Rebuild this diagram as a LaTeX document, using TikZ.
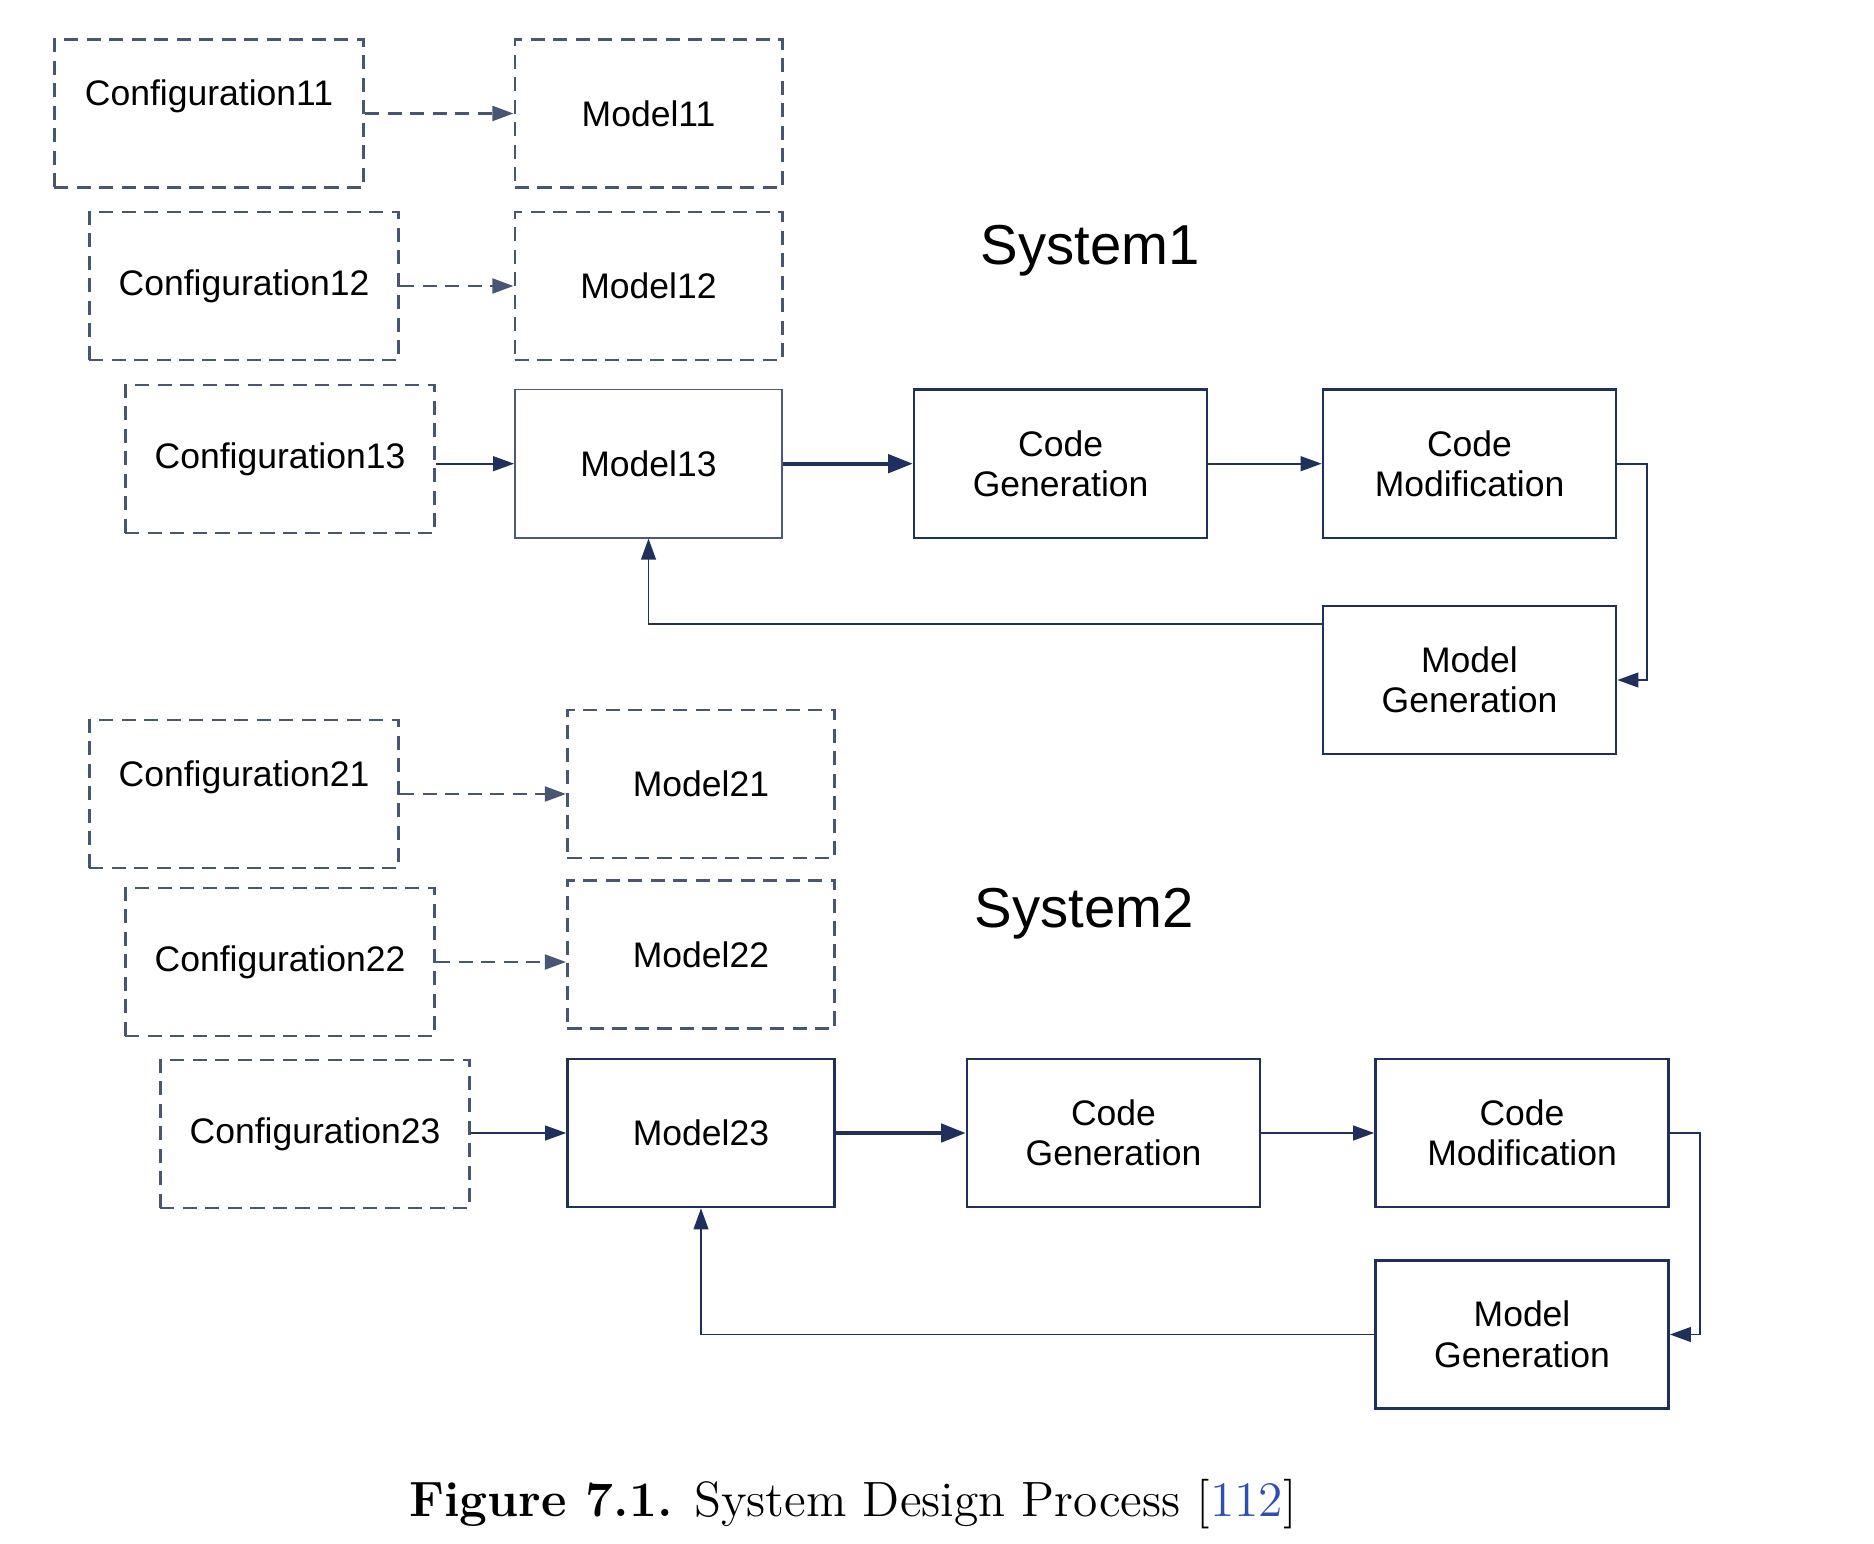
\documentclass[tikz,border=0pt]{standalone}
\usepackage{fontspec}
\usetikzlibrary{arrows.meta}
\newfontfamily\diafont{Liberation Sans}
\definecolor{navy}{RGB}{31,48,92}
\definecolor{dashnavy}{RGB}{72,86,116}
\definecolor{citeblue}{RGB}{48,78,178}

\begin{document}
\begin{tikzpicture}[x=0.01cm, y=-0.01cm, font=\diafont\fontsize{10.1}{11.5}\selectfont,
  box/.style={draw=navy, line width=0.7pt, align=center, minimum height=1.48cm, inner sep=0pt},
  dbox/.style={box, draw=dashnavy, line width=0.8pt, dash pattern=on 4pt off 2.4pt},
  conf/.style={dbox, minimum width=3.09cm},
  mdl/.style={box, minimum width=2.67cm},
  dmdl/.style={dbox, minimum width=2.67cm},
  stepbox/.style={box, minimum width=2.93cm},
  toptext/.style={text depth=11.6pt},
  flow/.style={-{Triangle[length=6pt, width=4.2pt]}, navy, line width=0.55pt},
  dflow/.style={flow, dashnavy, line width=0.75pt, dash pattern=on 4pt off 2.4pt},
  bigflow/.style={-{Triangle[length=7pt, width=5.2pt]}, navy, line width=1.1pt},
  title/.style={font=\diafont\fontsize{16}{19}\selectfont}]
  \useasboundingbox (0,0) rectangle (1874,1543);
  % --- System1 ---
  \node[conf, toptext] (conf11) at (209,113.5) {Configuration11};
  \node[dmdl] (model11) at (648.5,113.5) {Model11};
  \node[conf] (conf12) at (244,286) {Configuration12};
  \node[dmdl] (model12) at (648.5,286) {Model12};
  \node[conf] (conf13) at (280,459) {Configuration13};
  \node[mdl, line width=0.45pt, draw=navy!80] (model13) at (648.5,463.7) {Model13};
  \node[stepbox] (cgen1) at (1060.6,463.7) {Code\\Generation};
  \node[stepbox] (cmod1) at (1469.5,463.7) {Code\\Modification};
  \node[stepbox] (mgen1) at (1469.5,680) {Model\\Generation};
  \node[title] (sys1) at (1090,251) {System1};
  \draw[dflow] (conf11.east) -- (conf11.east -| model11.west);
  \draw[dflow] (conf12.east) -- (conf12.east -| model12.west);
  \draw[flow] (model13.west -| conf13.east) -- (model13.west);
  \draw[bigflow] (model13) -- (cgen1);
  \draw[flow] (cgen1) -- (cmod1);
  \draw[flow] (cmod1.east) -- ++(30,0) |- (mgen1.east);
  \draw[flow] ([yshift=0.56cm]mgen1.west) -| (model13.south);
  % --- System2 ---
  \node[conf, toptext] (conf21) at (244,794) {Configuration21};
  \node[dmdl] (model21) at (701,784) {Model21};
  \node[conf] (conf22) at (280,962) {Configuration22};
  \node[dmdl] (model22) at (701,954.4) {Model22};
  \node[conf] (conf23) at (315,1134) {Configuration23};
  \node[mdl] (model23) at (701,1133) {Model23};
  \node[stepbox] (cgen2) at (1113.5,1133) {Code\\Generation};
  \node[stepbox] (cmod2) at (1522,1133) {Code\\Modification};
  \node[stepbox] (mgen2) at (1522,1334.5) {Model\\Generation};
  \node[title] (sys2) at (1084,914) {System2};
  \draw[dflow] (conf21.east) -- (conf21.east -| model21.west);
  \draw[dflow] (conf22.east) -- (conf22.east -| model22.west);
  \draw[flow] (model23.west -| conf23.east) -- (model23.west);
  \draw[bigflow] (model23) -- (cgen2);
  \draw[flow] (cgen2) -- (cmod2);
  \draw[flow] (cmod2.east) -- ++(30,0) |- (mgen2.east);
  \draw[flow] (mgen2.west) -| (model23.south);
  % --- caption ---
  \node[font=\rmfamily\fontsize{14.1}{17}\selectfont] (caption) at (853,1504)
       {\textbf{Figure 7.1.} System Design Process [{\color{citeblue}112}]};
\end{tikzpicture}
\end{document}
